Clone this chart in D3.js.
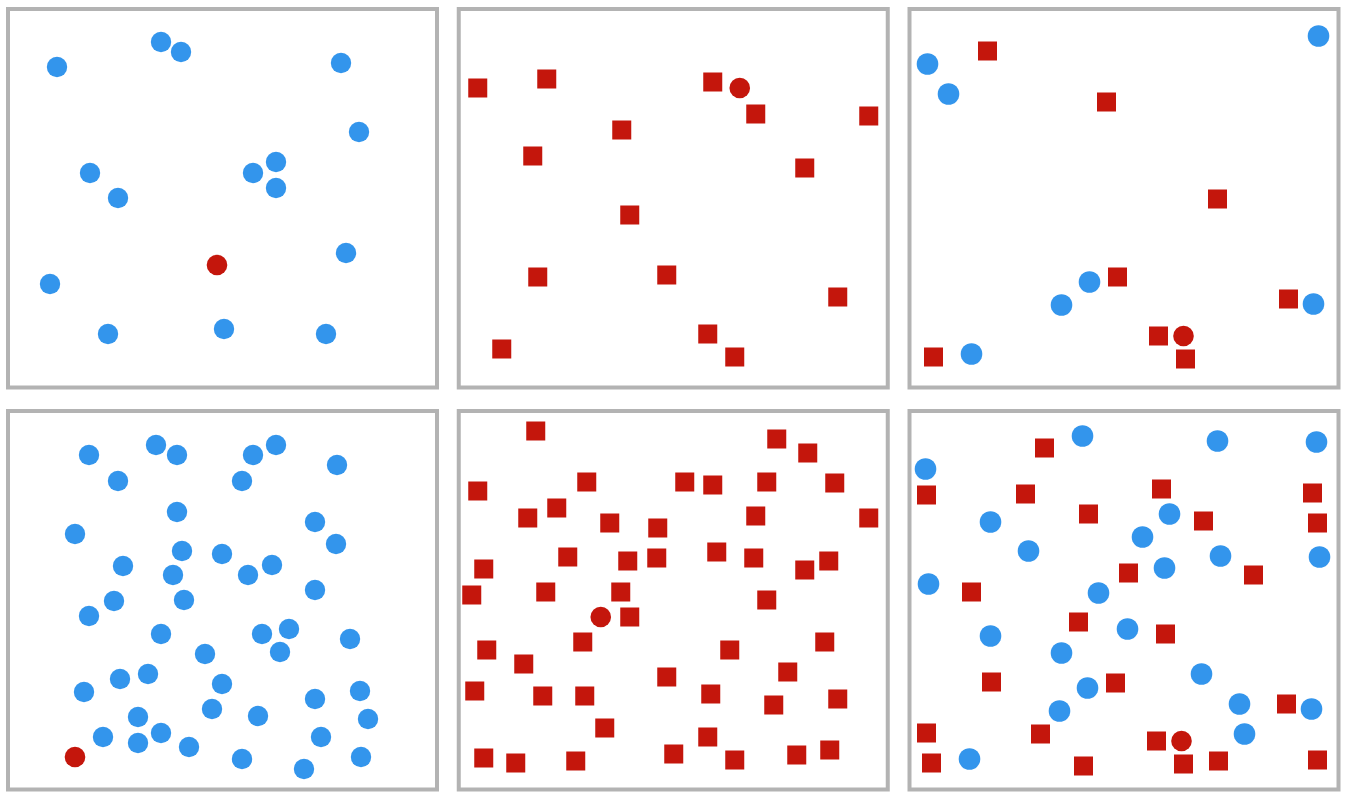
<!DOCTYPE html>
<html>
<head>
<meta charset="utf-8">
<script src="https://cdn.jsdelivr.net/npm/d3@7"></script>
<style>
  html, body { margin: 0; padding: 0; background: #fff; }
  svg { display: block; }
</style>
</head>
<body>
<div id="grafico"></div>
<script>
const WIDTH = 1350;
const HEIGHT = 803;

const p1Blue = [[49,58],[153,33],[173,43],[333,54],[351,123],[82,164],[110,189],[245,164],[268,153],[268,179],[338,244],[42,275],[100,325],[216,320],[318,325]];
const p1Square = [];
const p1Target = [209,256];

const p2Blue = [];
const p2Square = [[19,79],[88,70],[254,73],[297,105],[410,107],[163,121],[74,147],[346,159],[171,206],[79,268],[208,266],[379,288],[249,325],[276,348],[43,340]];
const p2Target = [281,79];

const p3Blue = [[18,55],[39,85],[409,27],[180,273],[152,296],[404,295],[62,345]];
const p3Square = [[78,42],[197,93],[308,190],[208,268],[379,290],[249,327],[276,350],[24,348]];
const p3Target = [274,327];

const p4Blue = [[81,44],[148,34],[169,44],[245,44],[268,34],[329,54],[110,70],[234,70],[169,101],[67,123],[307,111],[328,133],[174,140],[214,143],[115,155],[165,164],[240,164],[264,154],[307,179],[106,190],[176,189],[81,205],[153,223],[254,223],[281,218],[272,241],[342,228],[197,243],[140,263],[112,268],[76,281],[214,273],[307,288],[352,280],[360,308],[204,298],[250,305],[130,306],[95,326],[130,332],[153,322],[181,336],[234,348],[296,358],[313,326],[353,346]];
const p4Square = [];
const p4Target = [67,346];

const p5Blue = [];
const p5Square = [[77,20],[318,28],[349,42],[19,80],[128,71],[226,71],[254,74],[308,71],[376,72],[69,107],[98,97],[151,112],[199,117],[297,105],[410,107],[25,158],[109,146],[169,150],[198,147],[258,141],[295,147],[346,159],[370,150],[13,184],[87,181],[162,181],[308,189],[171,206],[28,239],[124,231],[271,239],[366,231],[65,253],[329,261],[208,266],[16,280],[84,285],[126,285],[252,283],[315,294],[379,288],[146,317],[249,326],[25,347],[57,352],[117,350],[215,343],[276,349],[338,344],[371,339]];
const p5Target = [142,206];

const p6Blue = [[173,25],[308,30],[407,31],[16,58],[81,111],[260,103],[233,126],[119,140],[311,145],[410,146],[255,157],[19,173],[189,182],[218,218],[81,225],[152,242],[292,263],[178,277],[150,300],[330,293],[402,298],[335,323],[60,348]];
const p6Square = [[135,37],[17,84],[116,83],[179,103],[252,78],[294,110],[403,82],[408,112],[219,162],[344,164],[62,181],[169,211],[256,223],[82,271],[206,272],[377,293],[17,322],[131,323],[247,330],[22,352],[174,355],[274,353],[309,350],[408,349]];
const p6Target = [272,330];

const panels = [
    {blue: p1Blue, square: p1Square, target: p1Target, r: 10.2},
    {blue: p2Blue, square: p2Square, target: p2Target, r: 10.2},
    {blue: p3Blue, square: p3Square, target: p3Target, r: 10.8},
    {blue: p4Blue, square: p4Square, target: p4Target, r: 10.2},
    {blue: p5Blue, square: p5Square, target: p5Target, r: 10.2},
    {blue: p6Blue, square: p6Square, target: p6Target, r: 10.8}
];

const BLUE = "#3395ec";
const RED = "#c4160c";
const PANEL_W = 429;
const PANEL_H = 378.5;
const SQ = 19;

let svg = d3.select("#grafico")
    .append("svg")
    .attr("width",WIDTH)
    .attr("height",HEIGHT);

panels.forEach((p,i)=>{
    let col = i % 3;
    let row = Math.floor(i / 3);
    let x0 = 8 + col*450.75;
    let y0 = 9 + row*402;

    let x = d3.scaleLinear().domain([0,PANEL_W]).range([x0,x0+PANEL_W]);
    let y = d3.scaleLinear().domain([0,PANEL_H]).range([y0,y0+PANEL_H]);

    let g = svg.append("g").attr("class","panel");

    g.append("rect")
        .attr("x",x(0))
        .attr("y",y(0))
        .attr("width",PANEL_W)
        .attr("height",PANEL_H)
        .style("fill","white")
        .style("stroke","#b3b3b3")
        .style("stroke-width",4);

    g.selectAll(".sq")
        .data(p.square)
        .enter()
        .append("rect")
        .attr("class","sq")
        .attr("x",(d)=>x(d[0])-SQ/2)
        .attr("y",(d)=>y(d[1])-SQ/2)
        .attr("width",SQ)
        .attr("height",SQ)
        .style("fill",RED);

    g.selectAll(".dot")
        .data(p.blue)
        .enter()
        .append("circle")
        .attr("class","dot")
        .attr("cx",(d)=>x(d[0]))
        .attr("cy",(d)=>y(d[1]))
        .attr("r",p.r)
        .style("fill",BLUE);

    g.append("circle")
        .datum(p.target)
        .attr("cx",(d)=>x(d[0]))
        .attr("cy",(d)=>y(d[1]))
        .attr("r",10.3)
        .style("fill",RED);
});
</script>
</body>
</html>
